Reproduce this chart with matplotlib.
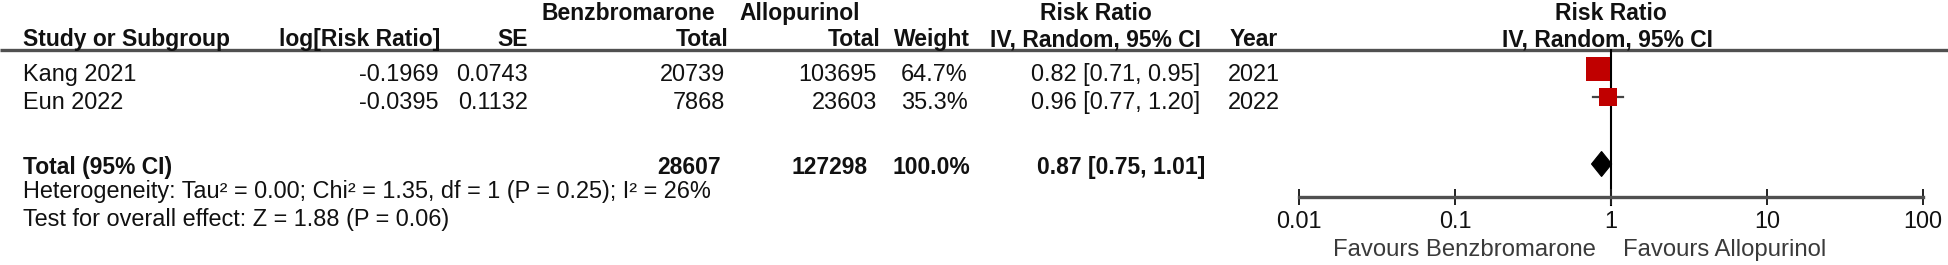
import numpy as np
import matplotlib.pyplot as plt
from matplotlib.patches import Polygon
from matplotlib.ticker import NullLocator

plt.rcParams['font.family'] = ['Liberation Sans', 'DejaVu Sans']

# study level data (RevMan style table)
studies = ['Kang 2021', 'Eun 2022']
log_rr = [-0.1969, -0.0395]
se = [0.0743, 0.1132]
benz_total = [20739, 7868]
allo_total = [103695, 23603]
weights = [64.7, 35.3]
rr = [0.82, 0.96]
ci_low = [0.71, 0.77]
ci_high = [0.95, 1.20]
years = [2021, 2022]

# pooled estimate
benz_sum = 28607
allo_sum = 127298
weight_sum = 100.0
pooled_rr = 0.87
pooled_low = 0.75
pooled_high = 1.01

heterogeneity = 'Heterogeneity: Tau² = 0.00; Chi² = 1.35, df = 1 (P = 0.25); I² = 26%'
overall_effect = 'Test for overall effect: Z = 1.88 (P = 0.06)'

ticks = [0.01, 0.1, 1, 10, 100]
tick_labels = ['0.01', '0.1', '1', '10', '100']
left_label = 'Favours Benzbromarone'
right_label = 'Favours Allopurinol'

W, H = 1948, 265
FS = 16.9      # regular text
FS_B = 16.5    # bold text
INK = '#111111'
RED = '#c00000'
LINE_GREY = '#505050'

fig = plt.figure(figsize=(W / 100, H / 100), dpi=100)

# table axes in pixel units
tab = fig.add_axes([0, 0, 1, 1])
tab.set_xlim(0, W)
tab.set_ylim(H, 0)
tab.axis('off')

# forest axes, log scale, same vertical pixel units
px0, px1 = 1299, 1923
forest = fig.add_axes([px0 / W, 0, (px1 - px0) / W, 1])
forest.set_xscale('log')
forest.set_xlim(ticks[0], ticks[-1])
forest.set_ylim(H, 0)
forest.patch.set_visible(False)


def put(x, y, s, ha='left', bold=False, color=INK):
    tab.text(x, y, s, ha=ha, va='baseline', color=color,
             fontsize=FS_B if bold else FS,
             fontweight='bold' if bold else 'normal')


# header rows
h1, h2, line_y = 20, 46, 50
put(628, h1, 'Benzbromarone', ha='center', bold=True)
put(800, h1, 'Allopurinol', ha='center', bold=True)
put(1096, h1, 'Risk Ratio', ha='center', bold=True)
put(1611, h1, 'Risk Ratio', ha='center', bold=True)
put(23, h2, 'Study or Subgroup', bold=True)
put(440, h2, 'log[Risk Ratio]', ha='right', bold=True)
put(528, h2, 'SE', ha='right', bold=True)
put(729, h2, 'Total', ha='right', bold=True)
put(881, h2, 'Total', ha='right', bold=True)
put(970, h2, 'Weight', ha='right', bold=True)
put(1201, h2, 'IV, Random, 95% CI', ha='right', bold=True)
put(1278, h2, 'Year', ha='right', bold=True)
put(1607, h2, 'IV, Random, 95% CI', ha='center', bold=True)
tab.plot([0, W], [line_y, line_y], color=LINE_GREY, lw=2.4,
         solid_capstyle='butt')

# study rows
row_base = [81, 109]
for i, name in enumerate(studies):
    yb = row_base[i]
    put(23, yb, name)
    put(439, yb, f'{log_rr[i]:.4f}', ha='right')
    put(528, yb, f'{se[i]:.4f}', ha='right')
    put(725, yb, f'{benz_total[i]}', ha='right')
    put(877, yb, f'{allo_total[i]}', ha='right')
    put(968, yb, f'{weights[i]:.1f}%', ha='right')
    put(1200, yb, f'{rr[i]:.2f} [{ci_low[i]:.2f}, {ci_high[i]:.2f}]', ha='right')
    put(1280, yb, f'{years[i]}', ha='right')

    ym = yb - 12
    forest.plot([ci_low[i], ci_high[i]], [ym, ym], color='#444444', lw=1.6,
                zorder=2, clip_on=False)
    side = 3.0 * np.sqrt(weights[i])
    forest.plot([rr[i]], [ym], 's', color=RED, ms=side * 0.72, mew=0,
                zorder=3, clip_on=False)

# total row
tb = 174
put(23, tb, 'Total (95% CI)', bold=True)
put(721, tb, f'{benz_sum}', ha='right', bold=True)
put(868, tb, f'{allo_sum}', ha='right', bold=True)
put(970, tb, f'{weight_sum:.1f}%', ha='right', bold=True)
put(1205, tb, f'{pooled_rr:.2f} [{pooled_low:.2f}, {pooled_high:.2f}]',
    ha='right', bold=True)
yd = tb - 10
diamond = Polygon([(pooled_low, yd), (pooled_rr, yd - 12.5),
                   (pooled_high, yd), (pooled_rr, yd + 12.5)],
                  closed=True, facecolor='black', edgecolor='black', lw=0.8,
                  zorder=3, clip_on=False)
forest.add_patch(diamond)

put(23, 198, heterogeneity)
put(23, 226, overall_effect)

# line of no effect
axis_y = 197
forest.plot([1, 1], [line_y, axis_y + 8], color='black', lw=1.5, zorder=1,
            clip_on=False)

# x axis of the forest plot
for side_name in ['top', 'left', 'right']:
    forest.spines[side_name].set_visible(False)
forest.spines['bottom'].set_position(('data', axis_y))
forest.spines['bottom'].set_color(LINE_GREY)
forest.spines['bottom'].set_linewidth(2.4)
forest.set_yticks([])
forest.set_xticks(ticks, tick_labels)
forest.xaxis.set_minor_locator(NullLocator())
forest.tick_params(axis='x', direction='inout', length=12, width=1.4,
                   color='#222222', pad=3, labelsize=FS, labelcolor=INK)

forest.text(0.8, 256, left_label, ha='right', va='baseline', fontsize=17.2,
            color='#3a3a3a')
forest.text(1.2, 256, right_label, ha='left', va='baseline', fontsize=17.2,
            color='#3a3a3a')

fig.savefig('out.png', dpi=100)
